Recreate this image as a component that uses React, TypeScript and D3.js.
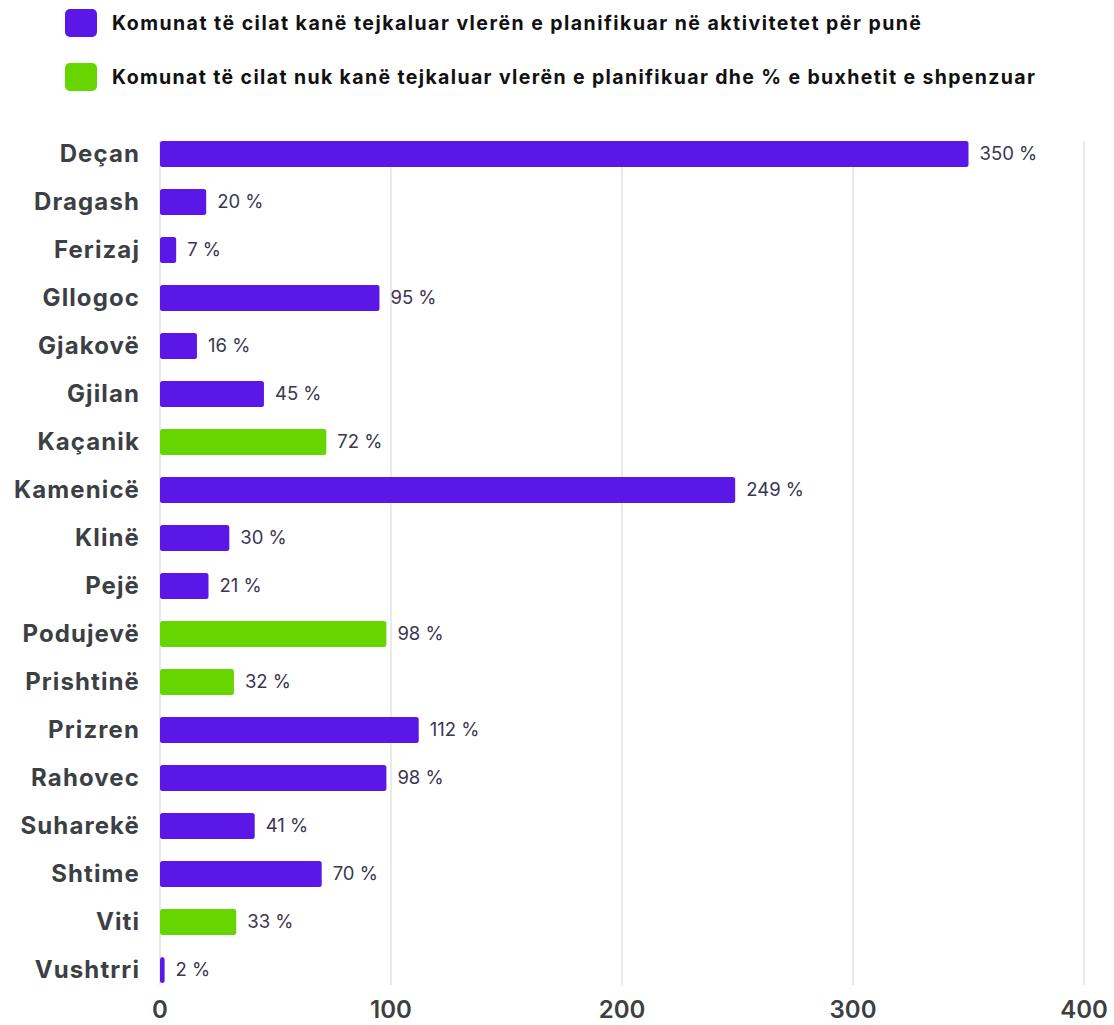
import React from "react";
import * as d3 from "d3";

const categories = ["Deçan","Dragash","Ferizaj","Gllogoc","Gjakovë","Gjilan","Kaçanik","Kamenicë","Klinë","Pejë","Podujevë","Prishtinë","Prizren","Rahovec","Suharekë","Shtime","Viti","Vushtrri"];
const values = [350,20,7,95,16,45,72,249,30,21,98,32,112,98,41,70,33,2];
const exceeded = [true,true,true,true,true,true,false,true,true,true,false,false,true,true,true,true,false,true];
const ticks = [0,100,200,300,400];
const legendLabels = [
  "Komunat të cilat kanë tejkaluar vlerën e planifikuar në aktivitetet për punë",
  "Komunat të cilat nuk kanë tejkaluar vlerën e planifikuar dhe % e buxhetit e shpenzuar",
];
const legendWidths = [809, 923];

const PURPLE = "#5b16e8";
const GREEN = "#67d600";
const TEXT = "#3c3f44";
const FONT = "Inter, 'DejaVu Sans', sans-serif";

export default function App() {
  const W = 1114, H = 1025;
  const x = d3.scaleLinear().domain([0, 400]).range([160, 1084]);
  const y = d3.scaleBand().domain(categories).range([130, 994]).paddingInner(0.46).paddingOuter(0.23);
  const bw = y.bandwidth();
  return (
    <div style={{ position: "absolute", left: 0, top: 0 }}>
      <svg width={W} height={H} style={{ display: "block", background: "#fff" }} fontFamily={FONT}>
        {[PURPLE, GREEN].map((c, i) => (
          <g key={i}>
            <rect x={65} y={9 + i * 54} width={32} height={28} rx={5} fill={c} />
            <text x={112} y={23 + i * 54} dy="0.35em" fontSize={19.5} fontWeight={700} fill="#111"
              textLength={legendWidths[i]} lengthAdjust="spacing">{legendLabels[i]}</text>
          </g>
        ))}
        {ticks.map(t => (
          <line key={t} x1={x(t)} x2={x(t)} y1={141} y2={985} stroke="#dcdcdc" strokeWidth={1.2} />
        ))}
        {categories.map((c, i) => {
          const y0 = y(c)!;
          const cy = y0 + bw / 2;
          return (
            <g key={c}>
              <rect x={x(0)} y={y0} width={Math.max(x(values[i]) - x(0), 0)} height={bw} rx={2.5} fill={exceeded[i] ? PURPLE : GREEN} />
              <text x={140} y={cy} dy="0.35em" textAnchor="end" fontSize={24} fontWeight={700} letterSpacing={1.1} fill={TEXT}>{c}</text>
              <text x={x(values[i]) + 11} y={cy} dy="0.35em" fontSize={18.5} fill="#3b3652">{values[i]} %</text>
            </g>
          );
        })}
        {ticks.map(t => (
          <text key={t} x={x(t)} y={1010} dy="0.35em" textAnchor="middle" fontSize={24} fontWeight={600} fill={TEXT}>{t}</text>
        ))}
      </svg>
    </div>
  );
}
